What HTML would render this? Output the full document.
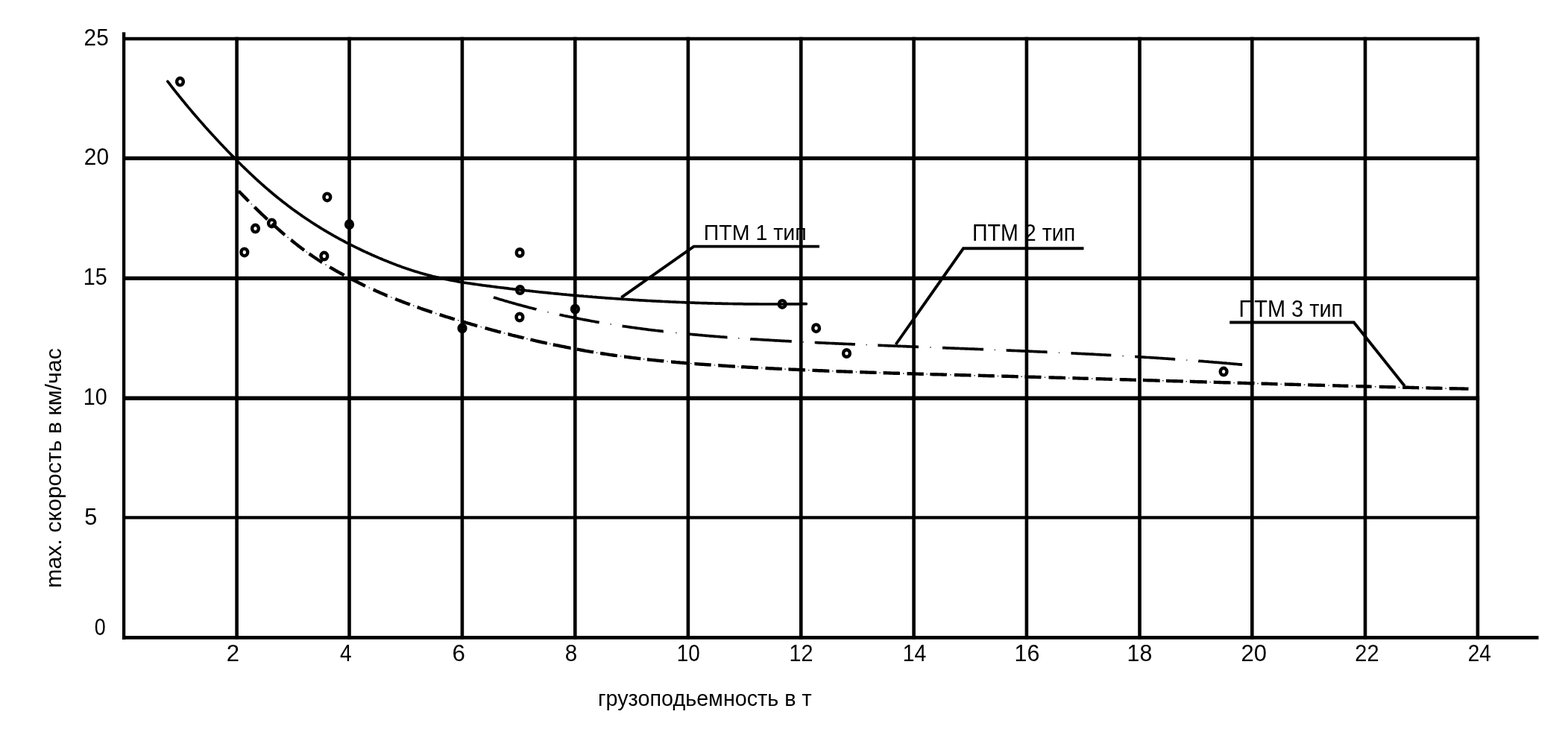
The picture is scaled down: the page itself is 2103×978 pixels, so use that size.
<!DOCTYPE html><html><head><meta charset="utf-8"><title>max. скорость — грузоподьемность</title><style>html,body{margin:0;padding:0;background:#fff;overflow:hidden}svg{display:block}text{font-family:"Liberation Sans",sans-serif;fill:#000}</style></head><body>
<svg width="2103" height="978" viewBox="0 0 2103 978">
<rect width="2103" height="978" fill="#fff"/>
<path d="M164.2 52.0H1984.2" stroke="#000" stroke-width="4.3" fill="none"/>
<path d="M164.2 212.3H1984.2" stroke="#000" stroke-width="5.2" fill="none"/>
<path d="M164.2 373.3H1984.2" stroke="#000" stroke-width="5.2" fill="none"/>
<path d="M164.2 534.3H1984.2" stroke="#000" stroke-width="5.5" fill="none"/>
<path d="M164.2 694.4H1984.2" stroke="#000" stroke-width="4.3" fill="none"/>
<path d="M317.6 49.8V857.6M468.5 49.8V857.6M619.9 49.8V857.6M771.3 49.8V857.6M922.9 49.8V857.6M1074.3 49.8V857.6M1225.6 49.8V857.6M1376.9 49.8V857.6M1528.5 49.8V857.6M1679.3 49.8V857.6M1831.0 49.8V857.6M1981.9 49.8V857.6" stroke="#000" stroke-width="4.6" fill="none"/>
<path d="M166.1 43.3V857.9" stroke="#000" stroke-width="4.3" fill="none"/>
<path d="M164.2 855.4H2063.5" stroke="#000" stroke-width="4.7" fill="none"/>
<path d="M224.9 109.3L226.4 111.2L227.9 113.2L229.4 115.1L230.9 117.1L232.4 119L233.9 120.9L235.4 122.8L236.9 124.7L238.4 126.5L239.9 128.4L241.4 130.3L242.9 132.1L244.4 134L245.9 135.8L247.4 137.6L248.9 139.5L250.4 141.3L251.9 143.1L253.4 144.9L254.9 146.6L256.4 148.4L257.9 150.2L259.4 152L260.9 153.7L262.4 155.5L263.9 157.2L265.4 158.9L266.9 160.7L268.4 162.4L269.9 164.1L271.4 165.8L272.9 167.5L274.4 169.2L275.9 170.9L277.4 172.5L278.9 174.2L280.4 175.9L281.9 177.5L283.4 179.2L284.9 180.8L286.4 182.4L287.9 184.1L289.4 185.7L290.9 187.3L292.4 188.9L293.9 190.6L295.4 192.2L296.9 193.8L298.4 195.3L299.9 196.9L301.4 198.5L302.9 200.1L304.4 201.7L305.9 203.2L307.4 204.8L308.9 206.3L310.4 207.9L311.9 209.4L313.4 210.9L314.9 212.5L316.4 214L317.9 215.5L319.4 217L320.9 218.5L322.4 220L323.9 221.5L325.4 223L326.9 224.4L328.4 225.9L329.9 227.3L331.4 228.8L332.9 230.2L334.4 231.7L335.9 233.1L337.4 234.5L338.9 235.9L340.4 237.3L341.9 238.7L343.4 240.1L344.9 241.4L346.4 242.8L347.9 244.2L349.4 245.5L350.9 246.9L352.4 248.2L353.9 249.5L355.4 250.8L356.9 252.1L358.4 253.4L359.9 254.7L361.4 256L362.9 257.3L364.4 258.5L365.9 259.8L367.4 261L368.9 262.3L370.4 263.5L371.9 264.7L373.4 265.9L374.9 267.1L376.4 268.3L377.9 269.5L379.4 270.7L380.9 271.8L382.4 273L383.9 274.1L385.4 275.3L386.9 276.4L388.4 277.5L389.9 278.7L391.4 279.8L392.9 280.9L394.4 282L395.9 283.1L397.4 284.1L398.9 285.2L400.4 286.3L401.9 287.3L403.4 288.4L404.9 289.4L406.4 290.5L407.9 291.5L409.4 292.5L410.9 293.5L412.4 294.5L413.9 295.5L415.4 296.5L416.9 297.5L418.4 298.5L419.9 299.5L421.4 300.4L422.9 301.4L424.4 302.3L425.9 303.3L427.4 304.2L428.9 305.1L430.4 306.1L431.9 307L433.4 307.9L434.9 308.8L436.4 309.7L437.9 310.6L439.4 311.5L440.9 312.3L442.4 313.2L443.9 314.1L445.4 314.9L446.9 315.8L448.4 316.6L449.9 317.5L451.4 318.3L452.9 319.1L454.4 320L455.9 320.8L457.4 321.6L458.9 322.4L460.4 323.2L461.9 324L463.4 324.8L464.9 325.6L466.4 326.3L467.9 327.1L469.4 327.9L470.9 328.6L472.4 329.4L473.9 330.1L475.4 330.9L476.9 331.6L478.4 332.4L479.9 333.1L481.4 333.8L482.9 334.5L484.4 335.3L485.9 336L487.4 336.7L488.9 337.4L490.4 338.1L491.9 338.8L493.4 339.5L494.9 340.1L496.4 340.8L497.9 341.5L499.4 342.2L500.9 342.8L502.4 343.5L503.9 344.1L505.4 344.8L506.9 345.4L508.4 346.1L509.9 346.7L511.4 347.3L512.9 348L514.4 348.6L515.9 349.2L517.4 349.8L518.9 350.4L520.4 351L521.9 351.6L523.4 352.2L524.9 352.8L526.4 353.4L527.9 354L529.4 354.5L530.9 355.1L532.4 355.7L533.9 356.2L535.4 356.8L536.9 357.3L538.4 357.9L539.9 358.4L541.4 358.9L542.9 359.4L544.4 360L545.9 360.5L547.4 361L548.9 361.5L550.4 362L551.9 362.5L553.4 363L554.9 363.4L556.4 363.9L557.9 364.4L559.4 364.8L560.9 365.3L562.4 365.7L563.9 366.2L565.4 366.6L566.9 367.1L568.4 367.5L569.9 367.9L571.4 368.3L572.9 368.7L574.4 369.1L575.9 369.5L577.4 369.9L578.9 370.3L580.4 370.7L581.9 371L583.4 371.4L584.9 371.8L586.4 372.1L587.9 372.4L589.4 372.8L590.9 373.1L592.4 373.5L593.9 373.8L595.4 374.1L596.9 374.4L598.4 374.7L599.9 375L601.4 375.3L602.9 375.6L604.4 375.9L605.9 376.2L607.4 376.5L608.9 376.7L610.4 377L611.9 377.3L613.4 377.6L614.9 377.8L616.4 378.1L617.9 378.3L619.4 378.6L620.9 378.8L622.4 379.1L623.9 379.3L625.4 379.5L626.9 379.8L628.4 380L629.9 380.2L631.4 380.4L632.9 380.7L634.4 380.9L635.9 381.1L637.4 381.3L638.9 381.5L640.4 381.7L641.9 382L643.4 382.2L644.9 382.4L646.4 382.6L647.9 382.8L649.4 383L650.9 383.2L652.4 383.4L653.8 383.6L655.3 383.7L656.8 383.9L658.3 384.1L659.8 384.3L661.3 384.5L662.8 384.7L664.3 384.9L665.8 385.1L667.3 385.3L668.8 385.5L670.3 385.6L671.8 385.8L673.3 386L674.8 386.2L676.3 386.4L677.8 386.6L679.3 386.7L680.8 386.9L682.3 387.1L683.8 387.3L685.3 387.5L686.8 387.6L688.3 387.8L689.8 388L691.3 388.2L692.8 388.3L694.3 388.5L695.8 388.7L697.3 388.9L698.8 389L700.3 389.2L701.8 389.4L703.3 389.5L704.8 389.7L706.3 389.9L707.8 390L709.3 390.2L710.8 390.4L712.3 390.5L713.8 390.7L715.3 390.9L716.8 391L718.3 391.2L719.8 391.3L721.3 391.5L722.8 391.7L724.3 391.8L725.8 392L727.3 392.1L728.8 392.3L730.3 392.4L731.8 392.6L733.3 392.7L734.8 392.9L736.3 393.1L737.8 393.2L739.3 393.4L740.8 393.5L742.3 393.7L743.8 393.8L745.3 393.9L746.8 394.1L748.3 394.2L749.8 394.4L751.3 394.5L752.8 394.7L754.3 394.8L755.8 395L757.3 395.1L758.8 395.2L760.3 395.4L761.8 395.5L763.3 395.6L764.8 395.8L766.3 395.9L767.8 396.1L769.3 396.2L770.8 396.3L772.3 396.5L773.8 396.6L775.3 396.7L776.8 396.9L778.3 397L779.8 397.1L781.3 397.2L782.8 397.4L784.3 397.5L785.8 397.6L787.3 397.7L788.8 397.9L790.3 398L791.8 398.1L793.3 398.2L794.8 398.4L796.3 398.5L797.8 398.6L799.3 398.7L800.8 398.8L802.3 399L803.8 399.1L805.3 399.2L806.8 399.3L808.3 399.4L809.8 399.5L811.3 399.6L812.8 399.8L814.3 399.9L815.8 400L817.3 400.1L818.8 400.2L820.3 400.3L821.8 400.4L823.3 400.5L824.8 400.6L826.3 400.7L827.8 400.8L829.3 400.9L830.8 401L832.3 401.1L833.8 401.2L835.3 401.3L836.8 401.4L838.3 401.5L839.8 401.6L841.3 401.7L842.8 401.8L844.3 401.9L845.8 402L847.3 402.1L848.8 402.2L850.3 402.3L851.8 402.4L853.3 402.5L854.8 402.6L856.3 402.7L857.8 402.8L859.3 402.9L860.8 402.9L862.3 403L863.8 403.1L865.3 403.2L866.8 403.3L868.3 403.4L869.8 403.5L871.3 403.5L872.8 403.6L874.3 403.7L875.8 403.8L877.3 403.9L878.8 403.9L880.3 404L881.8 404.1L883.3 404.2L884.8 404.2L886.3 404.3L887.8 404.4L889.3 404.5L890.8 404.5L892.3 404.6L893.8 404.7L895.3 404.7L896.8 404.8L898.3 404.9L899.8 405L901.3 405L902.8 405.1L904.3 405.2L905.8 405.2L907.3 405.3L908.8 405.3L910.3 405.4L911.8 405.5L913.3 405.5L914.8 405.6L916.3 405.7L917.8 405.7L919.3 405.8L920.8 405.8L922.3 405.9L923.8 405.9L925.3 406L926.8 406L928.3 406.1L929.8 406.2L931.3 406.2L932.8 406.3L934.3 406.3L935.8 406.4L937.3 406.4L938.8 406.5L940.3 406.5L941.8 406.6L943.3 406.6L944.8 406.6L946.3 406.7L947.8 406.7L949.3 406.8L950.8 406.8L952.3 406.9L953.8 406.9L955.3 406.9L956.8 407L958.3 407L959.8 407.1L961.3 407.1L962.8 407.1L964.3 407.2L965.8 407.2L967.3 407.2L968.8 407.3L970.3 407.3L971.8 407.3L973.3 407.4L974.8 407.4L976.3 407.4L977.8 407.5L979.3 407.5L980.8 407.5L982.3 407.5L983.8 407.6L985.3 407.6L986.8 407.6L988.3 407.6L989.8 407.7L991.3 407.7L992.8 407.7L994.3 407.7L995.8 407.7L997.3 407.8L998.8 407.8L1000.3 407.8L1001.8 407.8L1003.3 407.8L1004.8 407.8L1006.3 407.9L1007.8 407.9L1009.3 407.9L1010.8 407.9L1012.3 407.9L1013.8 407.9L1015.3 407.9L1016.8 407.9L1018.3 408L1019.8 408L1021.3 408L1022.8 408L1024.3 408L1025.8 408L1027.3 408L1028.8 408L1030.3 408L1031.8 408L1033.3 408L1034.8 408L1036.3 408L1037.8 408L1039.3 408L1040.8 408L1042.3 408L1043.8 408L1045.3 408L1046.8 408L1048.3 408L1049.8 408L1051.3 408L1052.8 408L1054.3 407.9L1055.8 407.9L1057.3 407.9L1058.8 407.9L1060.3 407.9L1061.8 407.9L1063.3 407.9L1064.8 407.9L1066.3 407.9L1067.8 407.8L1069.3 407.8L1070.8 407.8L1072.3 407.8L1073.8 407.8L1075.3 407.7L1076.8 407.7L1078.3 407.7L1079.8 407.7L1081.3 407.7" stroke="#000" stroke-width="3.7" fill="none" stroke-linecap="round" stroke-linejoin="round"/>
<path d="M661.9 398.9L661.9 398.9L663.4 399.4L664.9 399.8L666.4 400.3L667.9 400.8L669.4 401.2L670.9 401.7L672.4 402.1L673.9 402.6L675.4 403L676.9 403.5L678.4 403.9L679.9 404.3L681.4 404.8L682.9 405.2L684.4 405.6L685.9 406.1L687.4 406.5L688.9 406.9L690.4 407.3L691.9 407.8L693.4 408.2L694.9 408.6L696.4 409L697.9 409.4L699.4 409.8L700.9 410.2L702.4 410.6L703.9 411L705.4 411.4L706.9 411.8L708.4 412.2L709.9 412.6L711.4 413L712.9 413.3L714.4 413.7L715.9 414.1L717.4 414.5L718.9 414.8L719.4 415M750.4 422.2L751.8 422.5L753.3 422.8L754.8 423.1L756.3 423.5L757.8 423.8L759.3 424.1L760.8 424.4L762.3 424.7L763.8 425L765.3 425.3L766.8 425.6L768.3 425.9L769.8 426.2L771.3 426.5L772.8 426.8L774.3 427.1L775.8 427.4L777.3 427.7L778.8 428L780.3 428.3L781.8 428.6L783.3 428.8L784.8 429.1L786.3 429.4L787.8 429.7L789.3 429.9L790.8 430.2L792.3 430.5L793.8 430.8L795.3 431L796.8 431.3L798.3 431.6L799.8 431.8L801.3 432.1L802.8 432.3L803.7 432.5M834.6 437.4L835.8 437.6L837.3 437.8L838.8 438L840.3 438.2L841.8 438.5L843.3 438.7L844.8 438.9L846.3 439.1L847.8 439.3L849.3 439.5L850.7 439.7L852.2 439.9L853.7 440.1L855.2 440.3L856.7 440.5L858.2 440.7L859.7 440.9L861.2 441.1L862.7 441.3L864.2 441.5L865.7 441.7L867.2 441.9L868.7 442.1L870.2 442.3L871.7 442.5L873.2 442.6L874.7 442.8L876.2 443L877.7 443.2L879.2 443.4L880.7 443.5L882.2 443.7L883.7 443.9L885.2 444.1L886.7 444.2L888.2 444.4L889.7 444.6L889.8 444.6M924 448.2L924.2 448.2L925.7 448.3L927.2 448.5L928.7 448.6L930.2 448.8L931.7 448.9L933.2 449.1L934.7 449.2L936.2 449.3L937.7 449.5L939.2 449.6L940.7 449.7L942.2 449.9L943.7 450L945.2 450.1L946.7 450.3L948.2 450.4L949.7 450.5L951.2 450.6L952.7 450.8L954.2 450.9L955.7 451L957.2 451.1L958.7 451.3L960.2 451.4L961.7 451.5L963.2 451.6L964.7 451.7L966.2 451.9L967.7 452L969.2 452.1L970.7 452.2L972.2 452.3L973.7 452.4L975.2 452.6L975.5 452.6M1006.2 454.7L1006.6 454.8L1008.1 454.9L1009.6 455L1011.1 455.1L1012.6 455.1L1014.1 455.2L1015.6 455.3L1017.1 455.4L1018.6 455.5L1020.1 455.6L1021.6 455.7L1023.1 455.8L1024.6 455.9L1026.1 456L1027.6 456.1L1029.1 456.2L1030.6 456.2L1032.1 456.3L1033.6 456.4L1035.1 456.5L1036.6 456.6L1038.1 456.7L1039.6 456.8L1041.1 456.8L1042.6 456.9L1044.1 457L1045.6 457.1L1047.1 457.2L1048.6 457.3L1050.1 457.3L1051.6 457.4L1053.1 457.5L1054.6 457.6L1056.1 457.7L1057.6 457.7L1059.1 457.8L1060.6 457.9L1061.8 458M1092.7 459.5L1093.6 459.5L1095.1 459.6L1096.6 459.7L1098.1 459.8L1099.6 459.8L1101.1 459.9L1102.5 460L1104 460L1105.5 460.1L1107 460.2L1108.5 460.3L1110 460.3L1111.5 460.4L1113 460.5L1114.5 460.5L1116 460.6L1117.5 460.7L1119 460.7L1120.5 460.8L1122 460.9L1123.5 460.9L1125 461L1126.5 461.1L1128 461.1L1129.5 461.2L1131 461.3L1132.5 461.3L1134 461.4L1135.5 461.5L1137 461.5L1138.5 461.6L1140 461.7L1141.5 461.7L1143 461.8L1144.5 461.9L1146 461.9L1146.9 462M1177.4 463.2L1177.5 463.2L1179 463.3L1180.5 463.3L1182 463.4L1183.5 463.5L1185 463.5L1186.5 463.6L1188 463.7L1189.5 463.7L1191 463.8L1192.5 463.8L1194 463.9L1195.5 464L1197 464L1198.5 464.1L1200 464.1L1201.5 464.2L1203 464.2L1204.5 464.3L1206 464.4L1207.5 464.4L1209 464.5L1210.5 464.5L1212 464.6L1213.5 464.7L1215 464.7L1216.5 464.8L1218 464.8L1219.5 464.9L1221 465L1222.5 465L1224 465.1L1225.5 465.1L1226.9 465.2L1228.4 465.2L1229.9 465.3L1231.4 465.4L1232 465.4M1264 466.6L1264.4 466.6L1265.9 466.7L1267.4 466.7L1268.9 466.8L1270.4 466.9L1271.9 466.9L1273.4 467L1274.9 467L1276.4 467.1L1277.9 467.1L1279.4 467.2L1280.9 467.3L1282.4 467.3L1283.9 467.4L1285.4 467.4L1286.9 467.5L1288.4 467.6L1289.9 467.6L1291.4 467.7L1292.9 467.7L1294.4 467.8L1295.9 467.8L1297.4 467.9L1298.9 468L1300.4 468L1301.9 468.1L1303.4 468.1L1304.9 468.2L1306.4 468.2L1307.9 468.3L1309.4 468.4L1310.9 468.4L1312.4 468.5L1313.9 468.5L1315.4 468.6L1316.9 468.7L1318.4 468.7L1319 468.7M1349.6 470L1349.9 470L1351.4 470L1352.8 470.1L1354.3 470.2L1355.8 470.2L1357.3 470.3L1358.8 470.4L1360.3 470.4L1361.8 470.5L1363.3 470.5L1364.8 470.6L1366.3 470.7L1367.8 470.7L1369.3 470.8L1370.8 470.9L1372.3 470.9L1373.8 471L1375.3 471L1376.8 471.1L1378.3 471.2L1379.8 471.2L1381.3 471.3L1382.8 471.4L1384.3 471.4L1385.8 471.5L1387.3 471.6L1388.8 471.6L1390.3 471.7L1391.8 471.8L1393.3 471.8L1394.8 471.9L1396.3 472L1397.8 472L1399.3 472.1L1400.8 472.2L1402.3 472.2L1403.8 472.3L1404.6 472.3M1436.5 473.8L1436.8 473.8L1438.3 473.9L1439.8 474L1441.3 474L1442.8 474.1L1444.3 474.2L1445.8 474.3L1447.3 474.3L1448.8 474.4L1450.3 474.5L1451.8 474.6L1453.3 474.6L1454.8 474.7L1456.3 474.8L1457.8 474.9L1459.3 474.9L1460.8 475L1462.3 475.1L1463.8 475.2L1465.3 475.2L1466.8 475.3L1468.3 475.4L1469.8 475.5L1471.3 475.6L1472.8 475.6L1474.3 475.7L1475.8 475.8L1477.3 475.9L1478.7 476L1480.2 476L1481.7 476.1L1483.2 476.2L1484.7 476.3L1486.2 476.4L1487.7 476.4L1489.2 476.5L1490.3 476.6M1522.2 478.4L1522.2 478.4L1523.7 478.5L1525.2 478.6L1526.7 478.7L1528.2 478.8L1529.7 478.9L1531.2 479L1532.7 479.1L1534.2 479.2L1535.7 479.3L1537.2 479.4L1538.7 479.5L1540.2 479.5L1541.7 479.6L1543.2 479.7L1544.7 479.8L1546.2 479.9L1547.7 480L1549.2 480.1L1550.7 480.2L1552.2 480.3L1553.7 480.4L1555.2 480.5L1556.7 480.6L1558.2 480.7L1559.7 480.8L1561.2 480.9L1562.7 481L1564.2 481.1L1565.7 481.2L1567.2 481.3L1568.7 481.4L1570.2 481.5L1571.7 481.6L1573.2 481.7L1574.7 481.9L1576.2 482L1576.2 482M1607.2 484.2L1607.6 484.3L1609.1 484.4L1610.6 484.5L1612.1 484.6L1613.6 484.7L1615.1 484.9L1616.6 485L1618.1 485.1L1619.6 485.2L1621.1 485.3L1622.6 485.5L1624.1 485.6L1625.6 485.7L1627.1 485.8L1628.6 486L1630.1 486.1L1631.6 486.2L1633.1 486.3L1634.6 486.4L1636.1 486.6L1637.6 486.7L1639.1 486.8L1640.6 487L1642.1 487.1L1643.6 487.2L1645.1 487.3L1646.6 487.5L1648.1 487.6L1649.6 487.7L1651.1 487.9L1652.6 488L1654.1 488.1L1655.6 488.3L1657.1 488.4L1658.6 488.5L1660.1 488.7L1661.6 488.8L1663.1 488.9L1664.6 489.1L1666.1 489.2L1666.1 489.2" stroke="#000" stroke-width="3.7" fill="none"/>
<path d="M320 256.2L320 256.2L321.5 257.7L323 259.3L324.5 260.8L326 262.4L327.5 263.9L329 265.4L330.5 266.9L332 268.5L333.5 270L333.5 270M341.3 277.7L342.5 278.9L344 280.4L345.5 281.8L347 283.3L348.5 284.7L350 286.2L351.5 287.6L353 289L354.5 290.4L356 291.8L357.5 293.3L358.6 294.3M364.8 300L365 300.2L366.5 301.5L368 302.9L369.5 304.2L371 305.5L372.5 306.9L374 308.2L375.5 309.5L377 310.8L378.5 312.1L380 313.4L381.5 314.7L382 315.1M390.2 321.9L390.5 322.1L392 323.3L393.5 324.5L395 325.7L396.5 326.9L398 328.1L399.5 329.2L401 330.4L402.5 331.5L404 332.7L405.5 333.8L407 334.9L408 335.7M414.6 340.4L416 341.4L417.5 342.4L419 343.5L420.5 344.5L422 345.5L423.5 346.5L425 347.5L426.5 348.5L428 349.5L429.5 350.4L431 351.4L432.1 352.1M442.2 358.3L443 358.8L444.5 359.7L446 360.5L447.5 361.4L449 362.3L450.5 363.1L452 364L453.5 364.8L455 365.7L456.5 366.5L458 367.3L459.5 368.1L461 369L461.5 369.3M470.6 374.1L471.5 374.5L473 375.3L474.5 376L476 376.8L477.5 377.6L479 378.3L480.5 379L482 379.8L483.5 380.5L484.9 381.2L486.4 382L487.9 382.7L489.4 383.4L490 383.7M500.6 388.6L501.4 388.9L502.9 389.6L504.4 390.3L505.9 390.9L507.4 391.6L508.9 392.3L510.4 392.9L511.9 393.6L513.4 394.2L514.9 394.8L516.4 395.5L517.9 396.1L519.4 396.7L519.5 396.7M530.1 401L531.4 401.6L532.9 402.2L534.4 402.8L535.9 403.3L537.4 403.9L538.9 404.5L540.4 405.1L541.9 405.6L543.4 406.2L544.9 406.8L546.4 407.3L547.9 407.9L549.4 408.4L549.9 408.6M559.6 412.1L559.9 412.2L561.4 412.7L562.9 413.2L564.4 413.8L565.9 414.3L567.4 414.8L568.9 415.3L570.4 415.8L571.9 416.3L573.4 416.8L574.9 417.3L576.4 417.8L577.9 418.3L579.4 418.8L579.7 418.9M589.6 422.1L589.9 422.2L591.4 422.7L592.9 423.2L594.4 423.6L595.9 424.1L597.4 424.6L598.9 425L600.4 425.5L601.9 426L603.4 426.4L604.9 426.9L606.4 427.3L607.9 427.8L609.4 428.2L609.8 428.3M619.7 431.3L619.9 431.4L621.4 431.8L622.9 432.2L624.4 432.7L625.9 433.1L627.4 433.5L628.9 434L630.4 434.4L631.9 434.8L633.4 435.3L634.9 435.7L636.4 436.1L637.9 436.6L639.4 437L640.2 437.2M650.5 440.1L651.4 440.3L652.9 440.7L654.4 441.1L655.9 441.5L657.4 442L658.9 442.4L660.4 442.8L661.9 443.2L663.4 443.6L664.9 444L666.4 444.4L667.9 444.8L669.4 445.1L670.9 445.5L671.8 445.8M681.3 448.2L681.4 448.2L682.9 448.6L684.4 449L685.9 449.4L687.4 449.8L688.9 450.1L690.4 450.5L691.9 450.9L693.4 451.2L694.9 451.6L696.4 452L697.9 452.3L699.4 452.7L700.9 453.1L702.4 453.4L702.6 453.5M711.4 455.6L712.9 455.9L714.4 456.2L715.9 456.6L717.4 456.9L718.9 457.3L720.4 457.6L721.9 458L723.4 458.3L724.9 458.6L726.4 459L727.9 459.3L729.4 459.6L730.9 459.9L732.4 460.3L733.8 460.6M741.8 462.3L742.9 462.5L744.4 462.8L745.9 463.1L747.4 463.4L748.9 463.7L750.4 464L751.9 464.3L753.4 464.6L754.9 464.9L756.4 465.2L757.9 465.5L759.4 465.8L760.9 466.1L762.4 466.4L763.9 466.7L765.4 467L765.6 467M773.7 468.6L774.4 468.7L775.9 468.9L777.4 469.2L778.9 469.5L780.4 469.8L781.9 470L783.4 470.3L784.9 470.6L786.4 470.8L787.9 471.1L789.4 471.3L790.9 471.6L792.4 471.8L793.9 472.1L795.4 472.3L796 472.4M805.1 473.9L805.9 474L807.4 474.3L808.9 474.5L810.4 474.7L811.9 474.9L813.4 475.2L814.8 475.4L816.3 475.6L817.8 475.8L819.3 476.1L820.8 476.3L822.3 476.5L823.8 476.7L825.3 476.9L826.8 477.1L827.9 477.3M837 478.5L837.3 478.5L838.8 478.7L840.3 478.9L841.8 479.1L843.3 479.3L844.8 479.5L846.3 479.7L847.8 479.9L849.3 480.1L850.8 480.2L852.3 480.4L853.8 480.6L855.3 480.8L856.8 480.9L858.3 481.1L859.3 481.2M867.9 482.2L868.8 482.3L870.3 482.5L871.8 482.6L873.3 482.8L874.8 482.9L876.3 483.1L877.8 483.2L879.3 483.4L880.8 483.6L882.3 483.7L883.8 483.9L885.3 484L886.8 484.2L888.3 484.3L889.8 484.4L890.3 484.5M900 485.4L900.3 485.4L901.8 485.6L903.3 485.7L904.8 485.8L906.3 486L907.8 486.1L909.3 486.2L910.8 486.3L912.3 486.5L913.8 486.6L915.3 486.7L916.8 486.8L918.3 487L919.8 487.1L921.3 487.2L922 487.3M931.4 488L931.8 488L933.3 488.1L934.8 488.3L936.3 488.4L937.8 488.5L939.3 488.6L940.8 488.7L942.3 488.8L943.8 488.9L945.3 489L946.8 489.1L948.3 489.2L949.8 489.3L951.3 489.4L952.8 489.5L953.7 489.6M963.2 490.2L963.3 490.2L964.8 490.3L966.3 490.4L967.8 490.5L969.3 490.6L970.8 490.7L972.3 490.8L973.8 490.9L975.3 491L976.8 491.1L978.3 491.2L979.8 491.3L981.3 491.4L982.8 491.5L984.3 491.5L985.8 491.6L986 491.6M994.1 492.1L994.8 492.2L996.3 492.2L997.8 492.3L999.3 492.4L1000.8 492.5L1002.3 492.6L1003.8 492.7L1005.3 492.8L1006.8 492.8L1008.3 492.9L1009.8 493L1011.3 493.1L1012.8 493.2L1014.3 493.2L1015.8 493.3L1017 493.4M1026.5 493.9L1027.8 494L1029.3 494L1030.8 494.1L1032.3 494.2L1033.8 494.3L1035.3 494.3L1036.8 494.4L1038.3 494.5L1039.8 494.6L1041.3 494.6L1042.8 494.7L1044.3 494.8L1045.8 494.9L1047.3 494.9L1048.8 495L1048.8 495M1057.4 495.4L1057.8 495.4L1059.3 495.5L1060.8 495.6L1062.3 495.6L1063.8 495.7L1065.3 495.8L1066.8 495.8L1068.3 495.9L1069.8 496L1071.3 496L1072.8 496.1L1074.3 496.2L1075.8 496.2L1077.3 496.3L1078.8 496.4L1080 496.4M1089.5 496.8L1090.8 496.9L1092.3 496.9L1093.8 497L1095.3 497L1096.8 497.1L1098.3 497.2L1099.8 497.2L1101.3 497.3L1102.8 497.3L1104.3 497.4L1105.8 497.5L1107.3 497.5L1108.8 497.6L1110.3 497.6L1111.8 497.7L1112.3 497.7M1121.4 498.1L1122.3 498.1L1123.8 498.2L1125.3 498.2L1126.8 498.3L1128.3 498.3L1129.8 498.4L1131.3 498.4L1132.8 498.5L1134.3 498.5L1135.8 498.6L1137.3 498.6L1138.8 498.7L1140.3 498.8L1141.8 498.8L1143.3 498.9L1143.7 498.9M1153.2 499.2L1153.7 499.2L1155.2 499.3L1156.7 499.3L1158.2 499.4L1159.7 499.4L1161.2 499.5L1162.7 499.5L1164.2 499.6L1165.7 499.6L1167.2 499.7L1168.7 499.7L1170.2 499.8L1171.7 499.8L1173.2 499.9L1174.7 499.9L1175.6 499.9M1184.6 500.2L1185.2 500.2L1186.7 500.3L1188.2 500.3L1189.7 500.4L1191.2 500.4L1192.7 500.5L1194.2 500.5L1195.7 500.6L1197.2 500.6L1198.7 500.7L1200.2 500.7L1201.7 500.7L1203.2 500.8L1204.7 500.8L1206.2 500.9L1207 500.9M1216.5 501.2L1216.7 501.2L1218.2 501.2L1219.7 501.3L1221.2 501.3L1222.7 501.4L1224.2 501.4L1225.7 501.4L1227.2 501.5L1228.7 501.5L1230.2 501.6L1231.7 501.6L1233.2 501.7L1234.7 501.7L1236.2 501.7L1237.7 501.8L1238.8 501.8M1247.4 502.1L1248.2 502.1L1249.7 502.1L1251.2 502.2L1252.7 502.2L1254.2 502.2L1255.7 502.3L1257.2 502.3L1258.7 502.4L1260.2 502.4L1261.7 502.4L1263.2 502.5L1264.7 502.5L1266.2 502.6L1267.7 502.6L1269.2 502.6L1269.9 502.7M1279.9 502.9L1281.2 503L1282.7 503L1284.2 503L1285.7 503.1L1287.2 503.1L1288.7 503.2L1290.2 503.2L1291.7 503.2L1293.2 503.3L1294.7 503.3L1296.2 503.4L1297.7 503.4L1299.2 503.4L1300.7 503.5L1302.2 503.5L1302.4 503.5M1311.8 503.8L1312.7 503.8L1314.2 503.8L1315.7 503.9L1317.2 503.9L1318.7 504L1320.2 504L1321.7 504L1323.2 504.1L1324.7 504.1L1326.2 504.2L1327.7 504.2L1329.2 504.2L1330.7 504.3L1332.2 504.3L1333.7 504.4L1333.8 504.4M1343.2 504.6L1344.2 504.6L1345.7 504.7L1347.2 504.7L1348.7 504.8L1350.2 504.8L1351.7 504.8L1353.2 504.9L1354.7 504.9L1356.2 505L1357.7 505L1359.2 505L1360.7 505.1L1362.2 505.1L1363.7 505.2L1365.2 505.2L1365.7 505.2M1374.5 505.5L1375.7 505.5L1377.2 505.5L1378.7 505.6L1380.2 505.6L1381.7 505.7L1383.2 505.7L1384.7 505.7L1386.2 505.8L1387.7 505.8L1389.2 505.9L1390.7 505.9L1392.2 506L1393.7 506L1395.2 506L1396.5 506.1M1406.5 506.4L1407.2 506.4L1408.7 506.4L1410.2 506.5L1411.7 506.5L1413.2 506.5L1414.7 506.6L1416.2 506.6L1417.7 506.7L1419.2 506.7L1420.7 506.8L1422.2 506.8L1423.7 506.8L1425.2 506.9L1426.7 506.9L1428.2 507L1429 507M1438.4 507.3L1438.7 507.3L1440.2 507.3L1441.7 507.3L1443.2 507.4L1444.7 507.4L1446.2 507.5L1447.7 507.5L1449.2 507.6L1450.7 507.6L1452.2 507.6L1453.7 507.7L1455.2 507.7L1456.7 507.8L1458.2 507.8L1459.7 507.9L1459.8 507.9M1469.7 508.2L1470.2 508.2L1471.7 508.2L1473.2 508.3L1474.6 508.3L1476.1 508.3L1477.6 508.4L1479.1 508.4L1480.6 508.5L1482.1 508.5L1483.6 508.6L1485.1 508.6L1486.6 508.6L1488.1 508.7L1489.6 508.7L1491.1 508.8L1491.9 508.8M1501.7 509.1L1503.1 509.1L1504.6 509.2L1506.1 509.2L1507.6 509.3L1509.1 509.3L1510.6 509.3L1512.1 509.4L1513.6 509.4L1515.1 509.5L1516.6 509.5L1518.1 509.6L1519.6 509.6L1521.1 509.6L1522.6 509.7L1523.8 509.7M1532.8 510L1533.1 510L1534.6 510L1536.1 510.1L1537.6 510.1L1539.1 510.2L1540.6 510.2L1542.1 510.3L1543.6 510.3L1545.1 510.3L1546.6 510.4L1548.1 510.4L1549.6 510.5L1551.1 510.5L1552.6 510.6L1554.1 510.6L1555.6 510.7L1555.7 510.7M1563.9 510.9L1564.6 510.9L1566.1 511L1567.6 511L1569.1 511.1L1570.6 511.1L1572.1 511.1L1573.6 511.2L1575.1 511.2L1576.6 511.3L1578.1 511.3L1579.6 511.4L1581.1 511.4L1582.6 511.4L1584.1 511.5L1585.6 511.5L1586.8 511.6M1595.8 511.8L1596.1 511.8L1597.6 511.9L1599.1 511.9L1600.6 512L1602.1 512L1603.6 512.1L1605.1 512.1L1606.6 512.2L1608.1 512.2L1609.6 512.2L1611.1 512.3L1612.6 512.3L1614.1 512.4L1615.6 512.4L1617.1 512.5L1618.6 512.5L1618.7 512.5M1627.7 512.8L1629.1 512.8L1630.6 512.9L1632.1 512.9L1633.6 512.9L1635.1 513L1636.6 513L1638.1 513.1L1639.6 513.1L1641.1 513.2L1642.6 513.2L1644.1 513.2L1645.6 513.3L1647.1 513.3L1648.6 513.4L1650.1 513.4L1650.6 513.4M1659.6 513.7L1660.6 513.7L1662.1 513.8L1663.6 513.8L1665.1 513.9L1666.6 513.9L1668.1 513.9L1669.6 514L1671.1 514L1672.6 514.1L1674.1 514.1L1675.6 514.2L1677.1 514.2L1678.6 514.2L1680.1 514.3L1681.6 514.3L1682.5 514.4M1691.5 514.6L1692.1 514.6L1693.6 514.7L1695.1 514.7L1696.6 514.8L1698.1 514.8L1699.6 514.8L1701.1 514.9L1702.6 514.9L1704.1 515L1705.6 515L1707.1 515.1L1708.6 515.1L1710.1 515.1L1711.6 515.2L1713.1 515.2L1713.6 515.2M1722.8 515.5L1723.6 515.5L1725.1 515.6L1726.6 515.6L1728.1 515.6L1729.6 515.7L1731.1 515.7L1732.6 515.8L1734.1 515.8L1735.6 515.9L1737.1 515.9L1738.6 515.9L1740.1 516L1741.6 516L1743.1 516.1L1744.6 516.1L1744.9 516.1M1754.1 516.4L1755.1 516.4L1756.6 516.4L1758.1 516.5L1759.6 516.5L1761.1 516.6L1762.6 516.6L1764.1 516.6L1765.6 516.7L1767.1 516.7L1768.6 516.8L1770.1 516.8L1771.6 516.8L1773.1 516.9L1774.6 516.9L1776.1 517L1777.1 517M1787.2 517.3L1788.1 517.3L1789.6 517.3L1791.1 517.4L1792.6 517.4L1794.1 517.4L1795.6 517.5L1797.1 517.5L1798.6 517.6L1800.1 517.6L1801.6 517.6L1803.1 517.7L1804.5 517.7L1806 517.8L1807.5 517.8L1808.4 517.8M1818.5 518.1L1819.5 518.1L1821 518.2L1822.5 518.2L1824 518.2L1825.5 518.3L1827 518.3L1828.5 518.4L1830 518.4L1831.5 518.4L1833 518.5L1834.5 518.5L1836 518.5L1837.5 518.6L1839 518.6L1839.7 518.6M1849.8 518.9L1851 518.9L1852.5 519L1854 519L1855.5 519L1857 519.1L1858.5 519.1L1860 519.1L1861.5 519.2L1863 519.2L1864.5 519.3L1866 519.3L1867.5 519.3L1869 519.4L1870.5 519.4L1871.9 519.4M1881.1 519.7L1882.5 519.7L1884 519.7L1885.5 519.8L1887 519.8L1888.5 519.8L1890 519.9L1891.5 519.9L1893 520L1894.5 520L1896 520L1897.5 520.1L1899 520.1L1900.5 520.1L1902 520.2L1903.2 520.2M1912.4 520.4L1912.5 520.4L1914 520.4L1915.5 520.5L1917 520.5L1918.5 520.6L1920 520.6L1921.5 520.6L1923 520.7L1924.5 520.7L1926 520.7L1927.5 520.8L1929 520.8L1930.5 520.8L1932 520.9L1933.5 520.9L1934.5 520.9M1943.7 521.1L1944 521.1L1945.5 521.2L1947 521.2L1948.5 521.2L1950 521.3L1951.5 521.3L1953 521.3L1954.5 521.4L1956 521.4L1957.5 521.4L1959 521.4L1960.5 521.5L1962 521.5L1963.5 521.5L1965 521.6L1966.5 521.6L1968 521.6L1969.5 521.7L1969.5 521.7" stroke="#000" stroke-width="4.4" fill="none"/>
<path d="M734.2 418.0h1.4v1.4h-1.4zM818.5 434.3h1.4v1.4h-1.4zM906.2 445.8h1.4v1.4h-1.4zM990.1 453.0h1.4v1.4h-1.4zM1076.5 458.1h1.4v1.4h-1.4zM1161.5 461.9h1.4v1.4h-1.4zM1247.3 465.3h1.4v1.4h-1.4zM1333.6 468.7h1.4v1.4h-1.4zM1419.8 472.4h1.4v1.4h-1.4zM1505.5 476.8h1.4v1.4h-1.4zM1591.0 482.4h1.4v1.4h-1.4zM336.7 273.2h1.4v1.4h-1.4zM361.0 296.5h1.4v1.4h-1.4zM385.4 317.8h1.4v1.4h-1.4zM410.6 337.4h1.4v1.4h-1.4zM436.4 354.6h1.4v1.4h-1.4zM465.4 371.0h1.4v1.4h-1.4zM494.6 385.4h1.4v1.4h-1.4zM524.1 398.2h1.4v1.4h-1.4zM554.0 409.6h1.4v1.4h-1.4zM584.0 419.8h1.4v1.4h-1.4zM614.0 429.1h1.4v1.4h-1.4zM644.6 437.9h1.4v1.4h-1.4zM675.8 446.3h1.4v1.4h-1.4zM706.3 453.8h1.4v1.4h-1.4zM737.1 460.7h1.4v1.4h-1.4zM769.0 467.1h1.4v1.4h-1.4zM799.8 472.5h1.4v1.4h-1.4zM831.8 477.2h1.4v1.4h-1.4zM862.9 481.0h1.4v1.4h-1.4zM894.4 484.2h1.4v1.4h-1.4zM926.0 486.9h1.4v1.4h-1.4zM957.8 489.2h1.4v1.4h-1.4zM989.3 491.2h1.4v1.4h-1.4zM1021.0 492.9h1.4v1.4h-1.4zM1052.4 494.5h1.4v1.4h-1.4zM1084.0 495.9h1.4v1.4h-1.4zM1116.1 497.2h1.4v1.4h-1.4zM1147.8 498.3h1.4v1.4h-1.4zM1179.4 499.4h1.4v1.4h-1.4zM1211.0 500.3h1.4v1.4h-1.4zM1242.4 501.2h1.4v1.4h-1.4zM1274.2 502.1h1.4v1.4h-1.4zM1306.4 503.0h1.4v1.4h-1.4zM1337.8 503.8h1.4v1.4h-1.4zM1369.4 504.6h1.4v1.4h-1.4zM1400.8 505.5h1.4v1.4h-1.4zM1433.0 506.4h1.4v1.4h-1.4zM1464.0 507.3h1.4v1.4h-1.4zM1496.1 508.2h1.4v1.4h-1.4zM1527.6 509.2h1.4v1.4h-1.4zM1559.1 510.1h1.4v1.4h-1.4zM1590.6 511.0h1.4v1.4h-1.4zM1622.5 511.9h1.4v1.4h-1.4zM1654.4 512.9h1.4v1.4h-1.4zM1686.3 513.8h1.4v1.4h-1.4zM1717.5 514.7h1.4v1.4h-1.4zM1748.8 515.5h1.4v1.4h-1.4zM1781.5 516.4h1.4v1.4h-1.4zM1812.8 517.3h1.4v1.4h-1.4zM1844.0 518.1h1.4v1.4h-1.4zM1875.8 518.9h1.4v1.4h-1.4zM1907.1 519.6h1.4v1.4h-1.4zM1938.4 520.3h1.4v1.4h-1.4z" fill="#222"/>
<path d="M833.3 399.2L930.5 330.6H1099M1201.5 462L1292 333.3H1453.5M1649.2 432.5H1815.8L1884 518" stroke="#000" stroke-width="3.9" fill="none" stroke-linejoin="miter"/>
<g fill="none" stroke="#000" stroke-width="4.4"><ellipse cx="241.5" cy="109.6" rx="4.4" ry="4.8"/><ellipse cx="327.8" cy="338.4" rx="4.4" ry="4.8"/><ellipse cx="342.5" cy="306.6" rx="4.4" ry="4.8"/><ellipse cx="364.5" cy="299.4" rx="4.4" ry="4.8"/><ellipse cx="438.8" cy="264.4" rx="4.4" ry="4.8"/><ellipse cx="434.8" cy="343.6" rx="4.4" ry="4.8"/><ellipse cx="468.5" cy="301.1" rx="4.4" ry="4.8"/><ellipse cx="697.1" cy="339.0" rx="4.4" ry="4.8"/><ellipse cx="697.5" cy="389" rx="4.4" ry="4.8"/><ellipse cx="696.9" cy="425.5" rx="4.4" ry="4.8"/><ellipse cx="620" cy="440.4" rx="4.4" ry="4.8"/><ellipse cx="771.4" cy="414.7" rx="4.4" ry="4.8"/><ellipse cx="1049.2" cy="407.9" rx="4.4" ry="4.8"/><ellipse cx="1094.6" cy="440.2" rx="4.4" ry="4.8"/><ellipse cx="1135.5" cy="474.0" rx="4.4" ry="4.8"/><ellipse cx="1641.1" cy="498.6" rx="4.4" ry="4.8"/></g>
<text transform="translate(112.61 61.41) scale(0.9740 1)" font-size="30.60">25</text>
<text transform="translate(112.80 221.31) scale(0.9772 1)" font-size="30.60">20</text>
<text transform="translate(111.70 382.05) scale(0.9408 1)" font-size="30.60">15</text>
<text transform="translate(111.70 543.01) scale(0.9408 1)" font-size="30.60">10</text>
<text transform="translate(113.17 703.80) scale(1.0013 1)" font-size="30.60">5</text>
<text transform="translate(126.72 852.31) scale(0.8783 1)" font-size="30.60">0</text>
<text transform="translate(303.85 886.72) scale(1.0061 1)" font-size="30.90">2</text>
<text transform="translate(456.04 886.72) scale(0.9074 1)" font-size="30.90">4</text>
<text transform="translate(606.43 886.56) scale(1.0131 1)" font-size="30.90">6</text>
<text transform="translate(757.72 886.56) scale(0.9571 1)" font-size="30.90">8</text>
<text transform="translate(907.77 886.56) scale(0.9022 1)" font-size="30.90">10</text>
<text transform="translate(1058.50 886.72) scale(0.9312 1)" font-size="30.90">12</text>
<text transform="translate(1210.73 886.72) scale(0.9191 1)" font-size="30.90">14</text>
<text transform="translate(1360.58 886.56) scale(0.9807 1)" font-size="30.90">16</text>
<text transform="translate(1511.58 886.56) scale(0.9807 1)" font-size="30.90">18</text>
<text transform="translate(1664.46 886.56) scale(0.9994 1)" font-size="30.90">20</text>
<text transform="translate(1817.35 886.72) scale(0.9356 1)" font-size="30.90">22</text>
<text transform="translate(1968.80 886.72) scale(0.9049 1)" font-size="30.90">24</text>
<text transform="translate(943.81 321.60) scale(0.9614 1)" font-size="29.71">ПТМ 1 тип</text>
<text transform="translate(1304.01 323.49) scale(0.9318 1)" font-size="30.70">ПТМ 2 тип</text>
<text transform="translate(1661.59 425.29) scale(0.9459 1)" font-size="30.56">ПТМ 3 тип</text>
<text transform="translate(802.09 947.46) scale(0.9674 1)" font-size="29.73">грузоподьемность в т</text>
<text transform="translate(81.67 788.72) rotate(-90) scale(1.0560 1)" font-size="28.72">max. скорость в км/час</text>
</svg></body></html>
